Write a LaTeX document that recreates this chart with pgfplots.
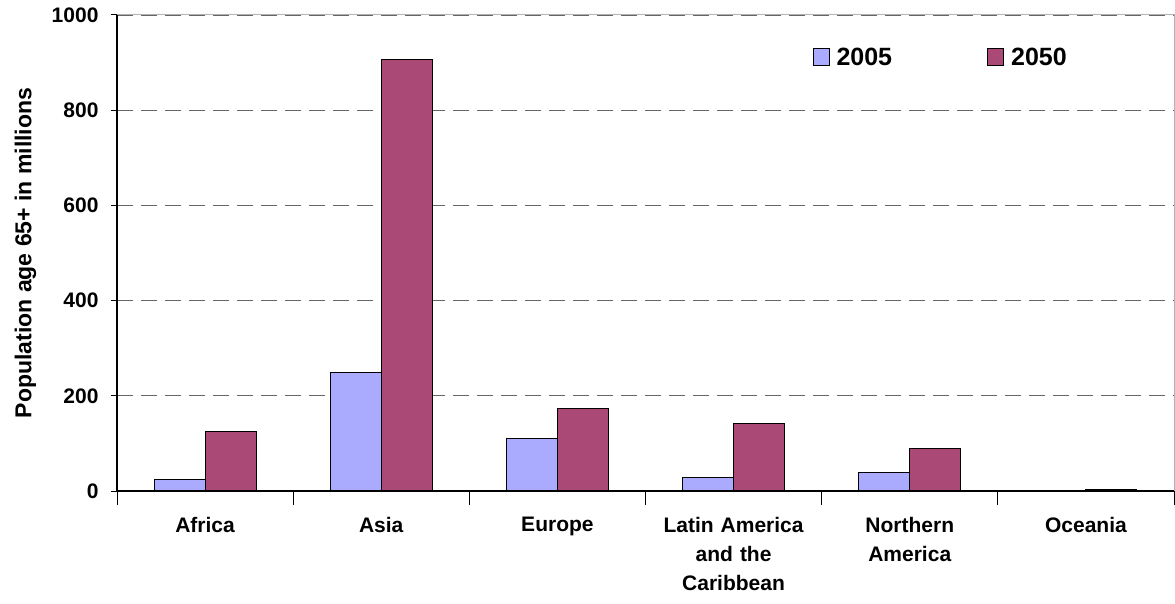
\documentclass[border=0pt]{standalone}
\usepackage{fontspec}
\setmainfont{Liberation Sans}
\usepackage{pgfplots}
\pgfplotsset{compat=1.18}
\definecolor{cA}{RGB}{170,170,255}
\definecolor{cB}{RGB}{170,73,117}
\begin{document}
\begin{tikzpicture}
\begin{axis}[
  name=ax,
  scale only axis,
  width=1057pt, height=476pt,
  xmin=0.5, xmax=6.5, ymin=0, ymax=1000,
  ybar=0pt, bar width=51pt,
  axis line style={draw=none},
  xtick={1,2,3,4,5,6},
  xticklabels={Africa, Asia, Europe, {Latin America\\and the\\Caribbean}, {Northern\\America}, Oceania},
  major x tick style={draw=none},
  minor xtick={0.5,1.5,2.5,3.5,4.5,5.5,6.5},
  minor x tick style={black, line width=1pt},
  minor tick length=14pt,
  xtick pos=bottom,
  xticklabel style={font=\fontsize{21}{29}\selectfont\bfseries, align=center, text width=220pt, yshift=-17pt},
  ytick={0,200,400,600,800,1000},
  ytick pos=left,
  tick align=outside,
  major tick length=6pt,
  y tick style={black, line width=1pt},
  yticklabel style={font=\fontsize{21}{25}\selectfont\bfseries, xshift=-9pt},
  /pgf/number format/assume math mode=true,
  /pgf/number format/1000 sep={},
  ymajorgrids,
  grid style={gray!80!black, dash pattern=on 16pt off 8pt, line width=1.3pt},
  ylabel={Population age 65+ in millions},
  ylabel style={at={(axis description cs:-0.0865,0.5)}, anchor=center, font=\fontsize{23}{27}\selectfont\bfseries},
  legend style={at={(rel axis cs:0.655,0.91)}, anchor=west, draw=none, fill=none,
    font=\fontsize{25}{29}\selectfont\bfseries, legend columns=2,
    /tikz/every even column/.append style={column sep=88pt},
    nodes={inner xsep=7pt}},
  legend image code/.code={\draw[#1, line width=1pt] (0pt,-8pt) rectangle (16pt,9pt);},
  clip=false,
]
\addplot[fill=cA, draw=black, line width=1pt] coordinates {(1,25) (2,248) (3,111) (4,29) (5,38) (6,0)};
\addplot[fill=cB, draw=black, line width=1pt] coordinates {(1,124) (2,907) (3,174) (4,141) (5,90) (6,4)};
\legend{2005,2050}
\draw[gray!60, line width=1pt] (rel axis cs:0,1) -- (rel axis cs:1,1) -- (rel axis cs:1,0);
\draw[black, line width=1.2pt] (rel axis cs:0,1) -- (rel axis cs:0,0) -- (rel axis cs:1,0);
\end{axis}
\pgfresetboundingbox
\path ([xshift=-117pt,yshift=-112pt]ax.south west) rectangle ([xshift=1pt,yshift=15pt]ax.north east);
\end{tikzpicture}
\end{document}
